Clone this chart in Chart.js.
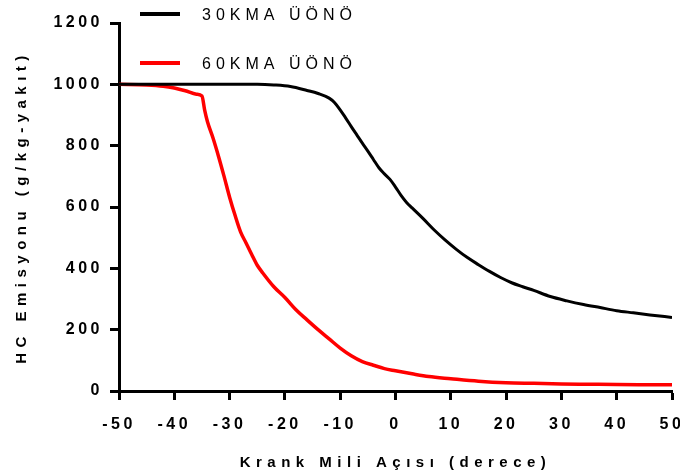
<!DOCTYPE html>
<html>
<head>
<meta charset="utf-8">
<script src="https://cdn.jsdelivr.net/npm/chart.js@4"></script>
<style>
  html, body { margin: 0; padding: 0; background: #fff; }
  #wrap { width: 680px; height: 475px; }
</style>
</head>
<body>
<div id="wrap"><canvas id="hcChart"></canvas></div>
<script>
// crank angle (deg) and HC emission (g/kg-fuel)
const angle30 = [-50, -40, -30, -25, -22, -19, -16, -14, -12, -11, -9, -8, -7, -6, -5, -4, -3, -2, -1, 0, 1, 2, 3, 5, 7, 9, 11, 13, 15, 17, 19, 21, 23, 25, 28, 31, 34, 37, 40, 43, 46, 50];
const hc30 = [1000, 1000, 1000, 1000, 998, 993, 980, 970, 955, 940, 890, 862, 835, 808, 782, 755, 728, 708, 690, 665, 638, 615, 597, 562, 525, 492, 462, 435, 412, 390, 370, 353, 340, 328, 308, 294, 282, 272, 262, 255, 248, 240];

const angle60 = [-50, -45, -42, -40, -38, -36, -35, -34.5, -34, -33, -32, -31, -30, -29, -28, -27, -26, -25, -24, -22, -20, -18, -16, -14, -12, -10, -8, -6, -4, -2, 0, 3, 6, 10, 15, 20, 25, 30, 35, 40, 45, 50];
const hc60 = [1000, 998, 994, 988, 979, 968, 962, 915, 878, 825, 765, 700, 632, 572, 518, 482, 445, 410, 385, 340, 305, 265, 232, 200, 170, 140, 115, 96, 84, 73, 66, 56, 47, 40, 32, 27, 25, 23, 22, 21, 20.5, 20];

const seriesLabels = ["30KMA ÜÖNÖ", "60KMA ÜÖNÖ"];
const seriesColors = ["#000000", "#ff0000"];

const xTitle = "Krank Mili Açısı (derece)";
const yTitle = "HC Emisyonu (g/kg-yakıt)";

const FONT = "'Liberation Sans', Arial, sans-serif";

const toPoints = (xs, ys) => xs.map((x, i) => ({ x: x, y: ys[i] }));

// Chart.js has no letter-spacing option, so wrap the scale draw calls
const spacing = {
  id: "spacing",
  beforeDraw(chart) {
    Object.values(chart.scales).forEach((scale) => {
      if (scale._spaced) return;
      const drawTitle = scale.drawTitle.bind(scale);
      const drawLabels = scale.drawLabels.bind(scale);
      scale.drawTitle = (...a) => { chart.ctx.letterSpacing = "5.5px"; drawTitle(...a); chart.ctx.letterSpacing = "0px"; };
      scale.drawLabels = (...a) => { chart.ctx.letterSpacing = "3.5px"; drawLabels(...a); chart.ctx.letterSpacing = "0px"; };
      scale._spaced = true;
    });
  },
};

// legend drawn in the top-left corner of the plot
const topLegend = {
  id: "topLegend",
  afterDraw(chart) {
    const ctx = chart.ctx;
    ctx.save();
    ctx.letterSpacing = "5px";
    ctx.font = "16px " + FONT;
    ctx.textBaseline = "middle";
    chart.data.datasets.forEach((ds, i) => {
      const y = 14 + i * 49;
      ctx.strokeStyle = ds.borderColor;
      ctx.lineWidth = 4;
      ctx.beginPath();
      ctx.moveTo(140, y);
      ctx.lineTo(180, y);
      ctx.stroke();
      ctx.fillStyle = "#000";
      ctx.fillText(ds.label, 202, y + 2);
    });
    ctx.restore();
  },
};

new Chart(document.getElementById("hcChart"), {
  type: "line",
  data: {
    datasets: [
      {
        label: seriesLabels[0],
        data: toPoints(angle30, hc30),
        borderColor: seriesColors[0],
        borderWidth: 3,
        pointRadius: 0,
        cubicInterpolationMode: "monotone",
      },
      {
        label: seriesLabels[1],
        data: toPoints(angle60, hc60),
        borderColor: seriesColors[1],
        borderWidth: 3.5,
        pointRadius: 0,
        cubicInterpolationMode: "monotone",
      },
    ],
  },
  options: {
    responsive: true,
    maintainAspectRatio: false,
    animation: false,
    layout: { padding: { top: 23, right: 8, bottom: 0, left: 0 } },
    plugins: {
      legend: { display: false },
      tooltip: { enabled: false },
    },
    scales: {
      x: {
        type: "linear",
        min: -50,
        max: 50,
        ticks: {
          stepSize: 10,
          color: "#000",
          padding: 15,
          maxRotation: 0,
          callback: (v) => String(v),
          font: { family: FONT, size: 16, weight: "bold" },
        },
        grid: { drawOnChartArea: false, drawTicks: true, tickLength: 9, tickWidth: 3, tickColor: "#000" },
        border: { display: true, width: 3, color: "#000" },
        title: {
          display: true,
          text: xTitle,
          color: "#000",
          padding: { top: 3, bottom: 3 },
          font: { family: FONT, size: 15, weight: "bold" },
        },
        afterFit(scale) {
          scale.height = 84;
          scale.paddingLeft = 0;
          scale.paddingRight = 0;
        },
      },
      y: {
        min: 0,
        max: 1200,
        ticks: {
          stepSize: 200,
          color: "#000",
          padding: 7,
          callback: (v) => String(v),
          font: { family: FONT, size: 16, weight: "bold" },
        },
        grid: { drawOnChartArea: false, drawTicks: true, tickLength: 9, tickWidth: 3, tickColor: "#000" },
        border: { display: true, width: 3, color: "#000" },
        title: {
          display: true,
          text: yTitle,
          color: "#000",
          padding: { top: 13, bottom: 13 },
          font: { family: FONT, size: 15, weight: "bold" },
        },
        afterFit(scale) {
          scale.width = 119;
          scale.paddingTop = 0;
          scale.paddingBottom = 0;
        },
      },
    },
  },
  plugins: [spacing, topLegend],
});
</script>
</body>
</html>
